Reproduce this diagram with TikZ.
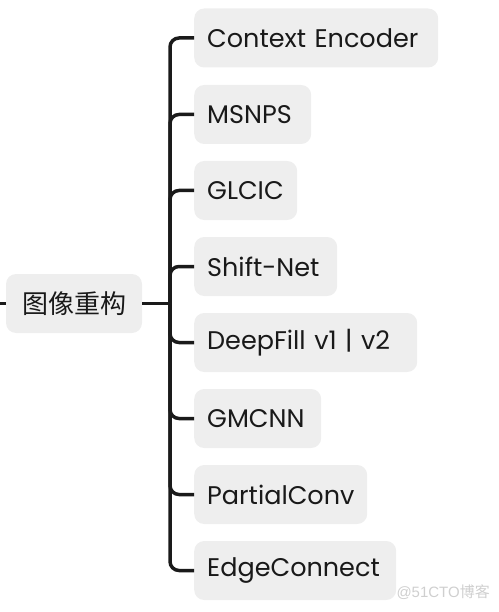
\documentclass[tikz,border=0pt]{standalone}
\usepackage{fontspec}
\setmainfont{Poppins}
\newfontfamily\cjk{Noto Sans CJK SC}
\newfontfamily\wmfont{Liberation Sans}
\definecolor{boxgray}{HTML}{EEEEEE}
\definecolor{linecol}{HTML}{1A1A1A}
\definecolor{wmgray}{HTML}{CFCFCF}
\begin{document}
\begin{tikzpicture}[x=1pt,y=-1pt,
  leaf/.style={fill=boxgray, rounded corners=10pt, minimum height=59pt, inner xsep=13pt, inner ysep=0pt, anchor=west, align=left, font=\fontsize{25.5}{30}\selectfont, text=black!90},
  rootbox/.style={fill=boxgray, rounded corners=10pt, minimum height=59pt, minimum width=136pt, inner sep=0pt, font=\cjk\fontsize{26}{30}\selectfont, text=black!90},
  conn/.style={draw=linecol, line width=3.5pt, rounded corners=9pt}
]
\useasboundingbox (0,0) rectangle (498,612);
\node[rootbox] (root) at (74,303.5) {图像重构};
\coordinate (stub) at (0,303.5);
\coordinate (hub) at (170,303.5);
\node[leaf, text width=218pt] (c1) at (194,38) {Context Encoder};
\node[leaf, text width=91pt] (c2) at (194,114.5) {MSNPS};
\node[leaf, text width=77pt] (c3) at (194,190.5) {GLCIC};
\node[leaf, text width=117pt] (c4) at (194,266.5) {Shift-Net};
\node[leaf, text width=197pt] (c5) at (194,342.5) {DeepFill v1 | v2};
\node[leaf, text width=101pt] (c6) at (194,418.5) {GMCNN};
\node[leaf, text width=147pt] (c7) at (194,494.5) {PartialConv};
\node[leaf, text width=176pt] (c8) at (194,570.5) {EdgeConnect};
\draw[conn] (stub) -- (root.west);
\draw[conn] (root.east) -- (hub);
\foreach \c in {c1,c2,c3,c4,c5,c6,c7,c8}{
  \draw[conn] (hub) |- (\c.west);
}
\node[anchor=east, text=wmgray, font=\wmfont\fontsize{15}{18}\selectfont, inner sep=0pt] (wm) at (490,592) {@51CTO{\cjk 博客}};
\end{tikzpicture}
\end{document}
